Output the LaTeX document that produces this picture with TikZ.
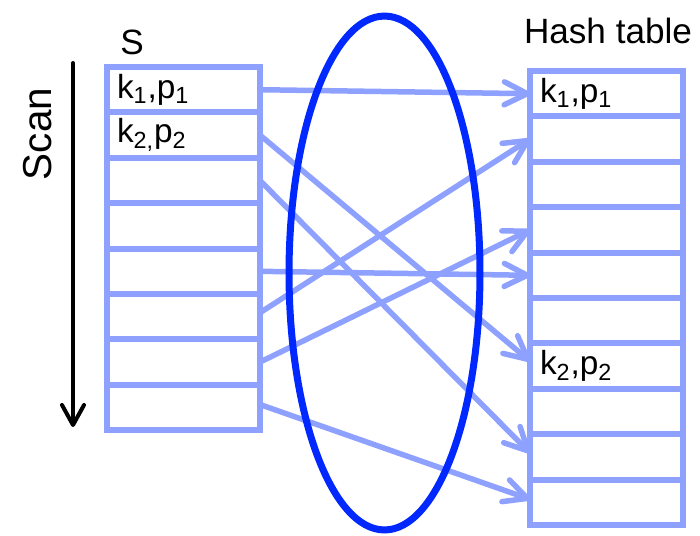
\documentclass[tikz,border=0pt]{standalone}
\usepackage{fontspec}
\setmainfont{Liberation Sans}
\usetikzlibrary{arrows.meta}

\definecolor{azulclaro}{RGB}{143,161,255}
\definecolor{azul}{RGB}{0,40,255}

\begin{document}
\begin{tikzpicture}[x=0.02cm, y=-0.02cm,
    celda/.style={draw=azulclaro, line width=0.12cm, minimum width=3.06cm,
      minimum height=0.908cm, text width=2.66cm, align=left,
      inner xsep=0.2cm, inner ysep=0pt, outer sep=0pt,
      font=\fontsize{19}{20}\selectfont},
    flecha/.style={azulclaro, line width=0.11cm, line cap=round,
      -{Straight Barb[length=4.6mm,width=4.6mm,round]}},
    titulo/.style={font=\fontsize{20}{22}\selectfont, inner sep=0pt}]

	\useasboundingbox (0,0) rectangle (700,535);

	% Relacion S (8 tuplas)
	\foreach \i/\txt in {1/{k\textsubscript{1},p\textsubscript{1}},
	                     2/{k\textsubscript{2,}p\textsubscript{2}},
	                     3/{},4/{},5/{},6/{},7/{},8/{}}
		\node[celda] (s\i) at (183.5, {67+45.4*(\i-0.5)}) {\txt};

	% Tabla hash (10 cubetas)
	\foreach \i/\txt in {1/{k\textsubscript{1},p\textsubscript{1}},
	                     2/{},3/{},4/{},5/{},6/{},
	                     7/{k\textsubscript{2},p\textsubscript{2}},
	                     8/{},9/{},10/{}}
		\node[celda] (h\i) at (606.5, {71+45.4*(\i-0.5)}) {\txt};

	% Titulos
	\node[titulo] (tituloS) at (132,42) {S};
	\node[titulo] (tituloH) at (608,31) {Hash table};

	% Flecha de recorrido
	\node[font=\fontsize{23}{25}\selectfont, rotate=90, inner sep=0pt] (scan) at (38,134) {Scan};
	\coordinate (scanini) at (73,63);
	\coordinate (scanfin) at (73,427);
	\draw[line width=0.08cm, line cap=round,
	      -{Straight Barb[length=4mm,width=4.4mm,round]}] (scanini) -- (scanfin);

	% Funcion hash: cada tupla va a su cubeta
	\draw[flecha] (s1.east) -- (h1.west);
	\draw[flecha] (s2.east) -- ([yshift=0.1cm]h7.west);
	\draw[flecha] (s3.east) -- ([yshift=0.08cm]h9.west);
	\draw[flecha] (s5.east) -- (h5.west);
	\draw[flecha] ([yshift=0.08cm]s6.east) -- (h2.west);
	\draw[flecha] (s7.east) -- (h4.west);
	\draw[flecha] ([yshift=0.06cm]s8.east) -- ([yshift=0.06cm]h10.west);

	% Elipse de la funcion hash
	\draw[azul, line width=0.14cm] (384.5,273) ellipse [x radius=1.91cm, y radius=5.14cm];

\end{tikzpicture}
\end{document}
